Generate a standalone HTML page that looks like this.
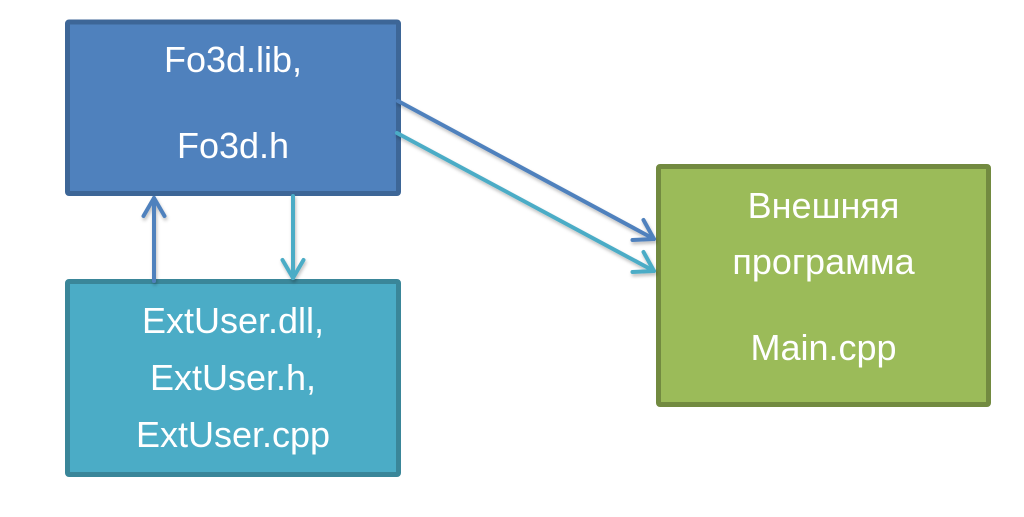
<!DOCTYPE html>
<html>
<head>
<meta charset="utf-8">
<style>
  html, body { margin: 0; padding: 0; background: #ffffff; }
  svg { display: block; }
  text { font-family: "Liberation Sans", "Noto Sans CJK SC", sans-serif; fill: #ffffff; font-size: 36px; }
</style>
</head>
<body>
<svg width="1024" height="517" viewBox="0 0 1024 517" xmlns="http://www.w3.org/2000/svg">
  <defs>
    <filter id="sh" x="-10%" y="-10%" width="120%" height="130%">
      <feDropShadow dx="1" dy="2.5" stdDeviation="1.5" flood-color="#000" flood-opacity="0.25"/>
    </filter>
  </defs>
  <rect x="0" y="0" width="1024" height="517" fill="#ffffff"/>

  <!-- Blue box -->
  <rect x="67.5" y="22" width="331" height="171.5" rx="1.5" fill="#4F81BD" stroke="#3D6697" stroke-width="5"/>
  <text x="233" y="72" text-anchor="middle">Fo3d.lib,</text>
  <text x="233" y="158" text-anchor="middle">Fo3d.h</text>

  <!-- Teal box -->
  <rect x="67.5" y="281.5" width="331" height="193" rx="1.5" fill="#4BACC6" stroke="#3A8699" stroke-width="5"/>
  <text x="233" y="333" text-anchor="middle">ExtUser.dll,</text>
  <text x="233" y="390" text-anchor="middle">ExtUser.h,</text>
  <text x="233" y="447" text-anchor="middle">ExtUser.cpp</text>

  <!-- Green box -->
  <rect x="658.5" y="166.5" width="330" height="238" rx="1.5" fill="#9BBB59" stroke="#728A40" stroke-width="5"/>
  <text x="823.5" y="218" text-anchor="middle">Внешняя</text>
  <text x="823.5" y="274" text-anchor="middle">программа</text>
  <text x="823.5" y="360" text-anchor="middle">Main.cpp</text>

  <!-- Vertical arrows -->
  <g fill="none" stroke-width="4" stroke-linecap="round" stroke-linejoin="round" filter="url(#sh)">
    <g stroke="#4F81BD">
      <line x1="154" y1="281" x2="154" y2="198"/>
      <polyline points="143.5,216 154,198 164.5,216"/>
    </g>
    <g stroke="#4BACC6">
      <line x1="293" y1="196" x2="293" y2="278"/>
      <polyline points="282.5,260 293,278 303.5,260"/>
    </g>
    <!-- Diagonal arrows -->
    <g stroke="#4F81BD">
      <line x1="398" y1="101" x2="654" y2="239"/>
      <polyline points="643.5,220 654,239 632.5,240"/>
    </g>
    <g stroke="#4BACC6">
      <line x1="397" y1="133" x2="654" y2="271"/>
      <polyline points="643.5,252 654,271 632.5,272"/>
    </g>
  </g>
</svg>
</body>
</html>
